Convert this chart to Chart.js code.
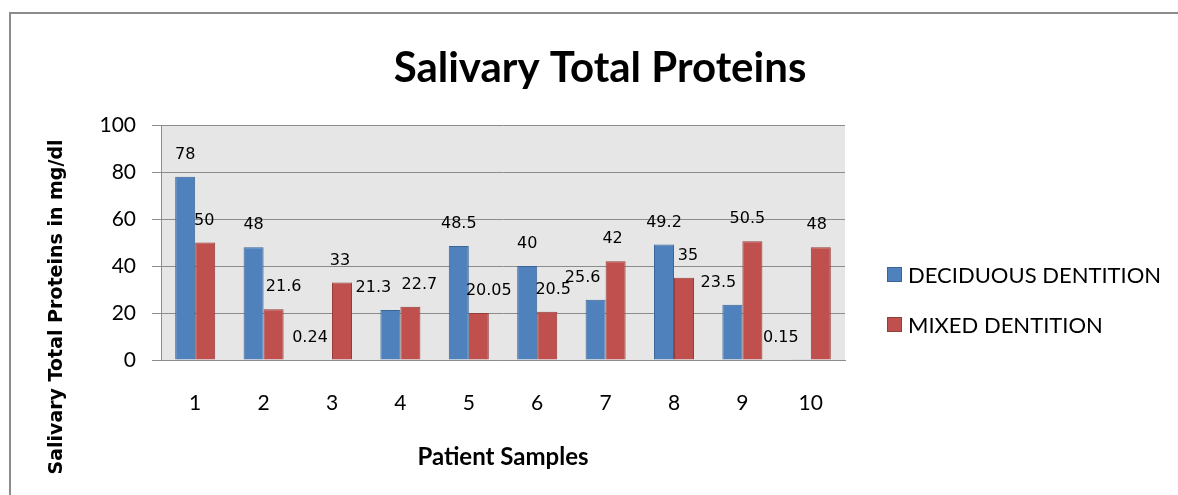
<!DOCTYPE html>
<html>
<head>
<meta charset="utf-8">
<script src="https://cdn.jsdelivr.net/npm/chart.js@4/dist/chart.umd.min.js"></script>
<style>
  html, body { margin: 0; padding: 0; background: #fff; }
  #wrap { width: 1178px; height: 495px; }
</style>
</head>
<body>
<div id="wrap"><canvas id="chart" width="1178" height="495"></canvas></div>
<script>
const samples = ['1', '2', '3', '4', '5', '6', '7', '8', '9', '10'];
const deciduous = [78, 48, 0.24, 21.3, 48.5, 40, 25.6, 49.2, 23.5, 0.15];
const mixed = [50, 21.6, 33, 22.7, 20.05, 20.5, 42, 35, 50.5, 48];
const yTicks = [0, 20, 40, 60, 80, 100];

// small sideways nudges of the value labels (px), as in the original
const labelNudge = [
    [0, -1],
    [0, 10],
    [-12, -2],
    [-17, 9],
    [0, 10],
    [0, 6],
    [-13, -3],
    [0, 4],
    [-14, -5],
    [-20, -4]
];

const titleFont = 'bold 42px Lato';
const xTitleFont = 'bold 24px Lato';
const yTitleFont = 'bold 19px "DejaVu Sans"';
const labelFont = '16px "DejaVu Sans"';

const chrome = {
    id: 'chrome',
    beforeDraw(chart) {
        const { ctx, chartArea: a } = chart;
        ctx.save();
        ctx.fillStyle = '#fff';
        ctx.fillRect(0, 0, chart.width, chart.height);
        ctx.strokeStyle = '#8c8c8c';
        ctx.lineWidth = 2;
        ctx.beginPath();
        ctx.moveTo(10, chart.height + 2);
        ctx.lineTo(10, 13);
        ctx.lineTo(chart.width + 2, 13);
        ctx.stroke();
        ctx.fillStyle = '#e6e6e6';
        ctx.fillRect(a.left, a.top, a.right - a.left, a.bottom - a.top);
        ctx.restore();
    },
    afterDraw(chart) {
        const { ctx, chartArea: a } = chart;
        ctx.save();
        ctx.fillStyle = '#000';
        ctx.textAlign = 'center';

        ctx.textBaseline = 'alphabetic';
        ctx.font = titleFont;
        ctx.fillText('Salivary Total Proteins', 600, 82);

        ctx.textBaseline = 'middle';
        ctx.font = xTitleFont;
        ctx.fillText('Patient Samples', (a.left + a.right) / 2, 457);

        ctx.save();
        ctx.translate(57, 307);
        ctx.rotate(-Math.PI / 2);
        ctx.font = yTitleFont;
        ctx.fillText('Salivary Total Proteins in mg/dl', 0, 0);
        ctx.restore();

        // value labels
        ctx.font = labelFont;
        chart.data.datasets.forEach((ds, di) => {
            chart.getDatasetMeta(di).data.forEach((bar, i) => {
                const txt = String(ds.data[i]);
                ctx.fillText(txt, bar.x + labelNudge[i][di], bar.y - 22);
            });
        });

        // legend
        ctx.font = '22px Lato';
        ctx.textAlign = 'left';
        chart.data.datasets.forEach((ds, di) => {
            const y = 275 + di * 50;
            ctx.fillStyle = ds.backgroundColor;
            ctx.strokeStyle = ds.borderColor;
            ctx.lineWidth = 1;
            ctx.fillRect(887.5, y - 7.5, 14, 14);
            ctx.strokeRect(887.5, y - 7.5, 14, 14);
            ctx.fillStyle = '#000';
            ctx.fillText(ds.label, 908, y + 1);
        });
        ctx.restore();
    }
};

new Chart(document.getElementById('chart'), {
    type: 'bar',
    data: {
        labels: samples,
        datasets: [{
            label: 'DECIDUOUS DENTITION',
            data: deciduous,
            backgroundColor: '#4F81BD',
            borderColor: '#3B6597',
            borderWidth: 1,
            categoryPercentage: 0.585,
            barPercentage: 1
        }, {
            label: 'MIXED DENTITION',
            data: mixed,
            backgroundColor: '#C0504D',
            borderColor: '#953D3A',
            borderWidth: 1,
            categoryPercentage: 0.585,
            barPercentage: 1
        }]
    },
    options: {
        responsive: false,
        animation: false,
        layout: { padding: { left: 0, top: 125, right: 333, bottom: 75 } },
        plugins: {
            legend: { display: false },
            tooltip: { enabled: false }
        },
        scales: {
            x: {
                grid: { display: false, drawTicks: false },
                border: { color: '#8c8c8c', width: 1 },
                ticks: { color: '#000', font: { family: 'Lato', size: 21 }, padding: 31 },
                afterFit(scale) { scale.height = 60; }
            },
            y: {
                min: 0,
                max: 100,
                afterBuildTicks(scale) { scale.ticks = yTicks.map(v => ({ value: v })); },
                grid: { color: '#8c8c8c', tickLength: 9 },
                border: { color: '#8c8c8c', width: 1 },
                ticks: { color: '#000', font: { family: 'Lato', size: 21 }, padding: 16 },
                afterFit(scale) { scale.width = 161; }
            }
        }
    },
    plugins: [chrome]
});
</script>
</body>
</html>
